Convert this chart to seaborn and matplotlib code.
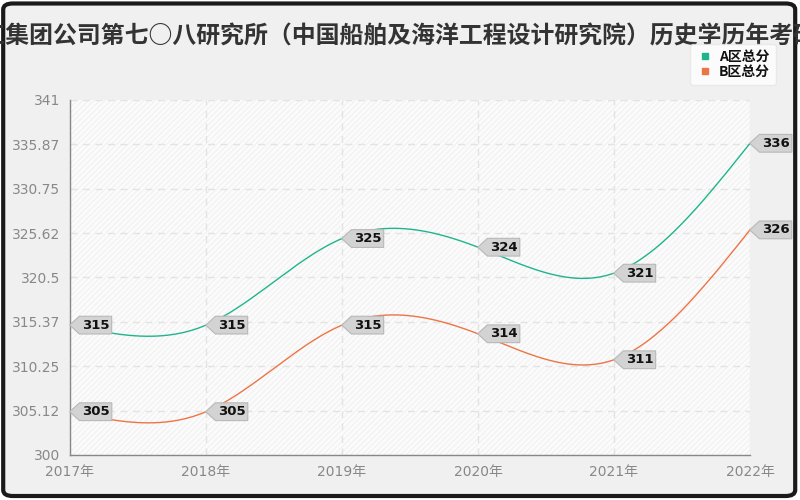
import math
import numpy as np
import pandas as pd
import matplotlib
matplotlib.use("Agg")
import matplotlib.pyplot as plt
from matplotlib.patches import FancyBboxPatch, Rectangle
from matplotlib.lines import Line2D
from matplotlib.path import Path
import seaborn as sns

years = ["2017年", "2018年", "2019年", "2020年", "2021年", "2022年"]
series_names = ["A区总分", "B区总分"]
a_scores = [315, 315, 325, 324, 321, 336]
b_scores = [305, 305, 315, 314, 311, 326]
title = "中国船舶重工集团公司第七○八研究所（中国船舶及海洋工程设计研究院）历史学历年考研复试分数线"
colors = ["#1fb58c", "#ec7546"]

sns.set_theme(style="white")
plt.rcParams["font.family"] = ["DejaVu Sans", "Noto Sans CJK SC"]
plt.rcParams["hatch.linewidth"] = 0.5
CJK = ["Noto Sans CJK SC", "DejaVu Sans"]


def natural_spline(x, y, xs):
    x = np.asarray(x, float)
    y = np.asarray(y, float)
    n = len(x)
    h = np.diff(x)
    A = np.zeros((n, n))
    r = np.zeros(n)
    A[0, 0] = A[-1, -1] = 1
    for i in range(1, n - 1):
        A[i, i - 1] = h[i - 1]
        A[i, i] = 2 * (h[i - 1] + h[i])
        A[i, i + 1] = h[i]
        r[i] = 6 * ((y[i + 1] - y[i]) / h[i] - (y[i] - y[i - 1]) / h[i - 1])
    M = np.linalg.solve(A, r)
    out = np.empty_like(xs)
    for k, t in enumerate(xs):
        i = min(max(np.searchsorted(x, t) - 1, 0), n - 2)
        a = (x[i + 1] - t) / h[i]
        b = (t - x[i]) / h[i]
        out[k] = (a * y[i] + b * y[i + 1]
                  + ((a ** 3 - a) * M[i] + (b ** 3 - b) * M[i + 1]) * h[i] ** 2 / 6)
    return out


def tag_box(x0, y0, width, height, mutation_size):
    pad = 0.18 * mutation_size
    x0 -= pad
    y0 -= pad
    x1 = x0 + width + 2 * pad
    y1 = y0 + height + 2 * pad
    ym = (y0 + y1) / 2
    arrow = (y1 - y0) * 0.55
    verts = [(x0, y0), (x1, y0), (x1, y1), (x0, y1), (x0 - arrow, ym), (x0, y0)]
    codes = [Path.MOVETO] + [Path.LINETO] * 4 + [Path.CLOSEPOLY]
    return Path(verts, codes)


xi = np.arange(len(years))
xs = np.linspace(0, len(years) - 1, 300)
frames = []
for name, vals in zip(series_names, [a_scores, b_scores]):
    frames.append(pd.DataFrame({"x": xs, "y": natural_spline(xi, vals, xs), "series": name}))
df = pd.concat(frames)

fig = plt.figure(figsize=(8, 5), dpi=100)
fig.patch.set_facecolor("white")
frame = FancyBboxPatch((0.004, 0.008), 0.99, 0.985, boxstyle="round,pad=0,rounding_size=0.012",
                       transform=fig.transFigure, facecolor="#f0f0f0", edgecolor="#1a1a1a",
                       linewidth=3, zorder=-10)
fig.patches.append(frame)

ax = fig.add_axes([70 / 800, 45 / 500, 680 / 800, 355 / 500])
ax.set_facecolor("none")
ax.add_patch(Rectangle((0, 0), 1, 1, transform=ax.transAxes, facecolor="#fbfbfb",
                       edgecolor="#ececec", hatch="//////", linewidth=0, zorder=0))

sns.lineplot(data=df, x="x", y="y", hue="series", palette=colors, linewidth=1.0,
             legend=False, ax=ax, zorder=3)

ax.set_xlim(0, len(years) - 1)
ax.set_ylim(300, 341)
yt = np.linspace(300, 341, 9)


def trunc_label(v):
    t = math.floor(v * 100 + 1e-9) / 100
    return f"{t:.2f}".rstrip("0").rstrip(".")


ax.set_yticks(yt)
ax.set_yticklabels([trunc_label(v) for v in yt])
ax.set_xticks(xi)
ax.set_xticklabels(years)
ax.set_xlabel("")
ax.set_ylabel("")
ax.tick_params(axis="both", colors="#888888", labelsize=10, length=5, width=1,
               direction="out", pad=2)
ax.grid(True, color="#e3e3e3", linestyle=(0, (5, 4)), linewidth=1)
for s in ["top", "right"]:
    ax.spines[s].set_visible(False)
for s in ["left", "bottom"]:
    ax.spines[s].set_color("#888888")
    ax.spines[s].set_linewidth(1)

for vals in [a_scores, b_scores]:
    for x, v in zip(xi, vals):
        ax.annotate(str(v), xy=(x, v), xytext=(8.5, 0), textcoords="offset points",
                    ha="left", va="center", fontsize=9.5, fontweight="bold", color="#111111",
                    bbox=dict(boxstyle=tag_box, fc="#d3d3d3", ec="#b8b8b8", lw=0.8),
                    annotation_clip=False, zorder=5)

fig.text(0.5, 1 - 37 / 500, title, ha="center", va="center", fontsize=17.2,
         fontweight="bold", color="#333333", family=CJK)

handles = [Line2D([0], [0], marker="s", linestyle="none", markersize=5,
                  markerfacecolor=c, markeredgecolor=c) for c in colors]
leg = fig.legend(handles, series_names, loc="upper right",
                 bbox_to_anchor=(776 / 800, 1 - 44 / 500), borderaxespad=0, frameon=True,
                 prop={"size": 10, "weight": "bold", "family": CJK},
                 handletextpad=0.4, borderpad=0.45, labelspacing=0.05, handlelength=1.2,
                 fancybox=True)
leg.get_frame().set_facecolor("white")
leg.get_frame().set_edgecolor("#e6e6e6")
for t in leg.get_texts():
    t.set_color("#111111")

fig.savefig("out.png", dpi=100)
